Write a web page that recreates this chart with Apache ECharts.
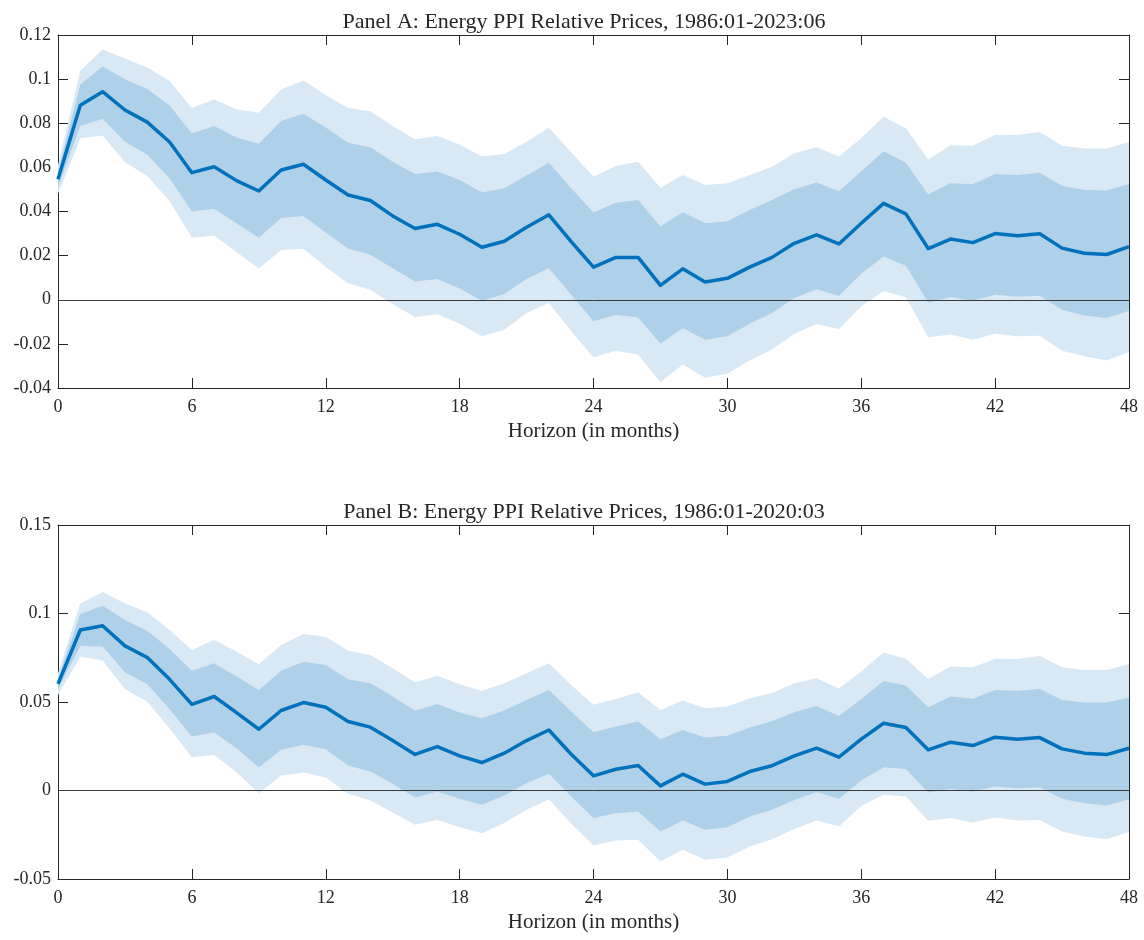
<!DOCTYPE html>
<html>
<head>
<meta charset="utf-8">
<script src="https://cdn.jsdelivr.net/npm/echarts@6/dist/echarts.min.js"></script>
<style>
  html, body { margin: 0; padding: 0; background: #ffffff; }
  #chart { width: 1144px; height: 940px; }
</style>
</head>
<body>
<div id="chart"></div>
<script>
// Impulse-response horizons (months)
const horizons = [0,1,2,3,4,5,6,7,8,9,10,11,12,13,14,15,16,17,18,19,20,21,22,23,24,
  25,26,27,28,29,30,31,32,33,34,35,36,37,38,39,40,41,42,43,44,45,46,47,48];

// Panel A: 1986:01-2023:06 — point estimate and confidence bands
const meanA = [0.0546,0.0882,0.0943,0.0860,0.0805,0.0715,0.0576,0.0603,0.0540,0.0493,0.0588,0.0614,0.0543,0.0475,0.0450,0.0380,0.0323,
  0.0342,0.0297,0.0238,0.0265,0.0329,0.0385,0.0264,0.0148,0.0192,0.0192,0.0065,0.0140,0.0080,0.0097,0.0148,0.0192,
  0.0256,0.0294,0.0253,0.0347,0.0437,0.0389,0.0232,0.0275,0.0259,0.0300,0.0290,0.0299,0.0234,0.0211,0.0205,0.0241];
const innerHiA = [0.0580,0.0976,0.1057,0.1000,0.0955,0.0881,0.0753,0.0787,0.0735,0.0707,0.0810,0.0843,0.0781,0.0712,0.0691,0.0626,0.0570,
  0.0581,0.0543,0.0486,0.0505,0.0563,0.0621,0.0505,0.0395,0.0440,0.0452,0.0332,0.0397,0.0347,0.0356,0.0407,0.0452,
  0.0501,0.0532,0.0492,0.0581,0.0673,0.0621,0.0477,0.0528,0.0523,0.0570,0.0566,0.0576,0.0517,0.0498,0.0495,0.0525];
const innerLoA = [0.0510,0.0787,0.0820,0.0716,0.0658,0.0551,0.0400,0.0412,0.0347,0.0281,0.0370,0.0380,0.0305,0.0232,0.0204,0.0143,0.0083,
  0.0094,0.0051,-0.0005,0.0026,0.0094,0.0143,0.0023,-0.0098,-0.0068,-0.0080,-0.0199,-0.0128,-0.0181,-0.0166,-0.0109,-0.0060,
  0.0008,0.0048,0.0018,0.0118,0.0196,0.0154,-0.0012,0.0012,-0.0005,0.0023,0.0015,0.0018,-0.0045,-0.0071,-0.0083,-0.0050];
const outerHiA = [0.0610,0.1038,0.1134,0.1094,0.1053,0.0992,0.0869,0.0908,0.0863,0.0848,0.0953,0.0994,0.0928,0.0869,0.0854,0.0787,0.0727,
  0.0742,0.0704,0.0649,0.0661,0.0716,0.0780,0.0668,0.0558,0.0606,0.0626,0.0508,0.0566,0.0520,0.0528,0.0566,0.0603,
  0.0664,0.0691,0.0649,0.0732,0.0830,0.0777,0.0636,0.0700,0.0698,0.0748,0.0747,0.0760,0.0698,0.0685,0.0686,0.0715];
const outerLoA = [0.0480,0.0731,0.0745,0.0623,0.0561,0.0448,0.0282,0.0290,0.0216,0.0142,0.0226,0.0231,0.0148,0.0075,0.0045,-0.0020,-0.0078,
  -0.0066,-0.0109,-0.0166,-0.0136,-0.0060,-0.0015,-0.0143,-0.0261,-0.0231,-0.0249,-0.0373,-0.0294,-0.0354,-0.0335,-0.0275,-0.0226,
  -0.0154,-0.0110,-0.0133,-0.0030,0.0038,0.0011,-0.0170,-0.0158,-0.0181,-0.0154,-0.0166,-0.0163,-0.0231,-0.0256,-0.0275,-0.0237];

// Panel B: 1986:01-2020:03
const meanB = [0.0602,0.0907,0.0931,0.0817,0.0751,0.0628,0.0487,0.0531,0.0440,0.0346,0.0452,0.0497,0.0470,0.0390,0.0358,0.0282,0.0204,
  0.0248,0.0196,0.0158,0.0211,0.0282,0.0342,0.0205,0.0083,0.0120,0.0141,0.0026,0.0092,0.0036,0.0051,0.0107,0.0140,
  0.0196,0.0239,0.0188,0.0290,0.0380,0.0356,0.0230,0.0273,0.0254,0.0301,0.0290,0.0299,0.0235,0.0211,0.0203,0.0239];
const innerHiB = [0.0634,0.0997,0.1044,0.0963,0.0903,0.0800,0.0676,0.0719,0.0644,0.0568,0.0677,0.0728,0.0709,0.0628,0.0606,0.0531,0.0451,
  0.0489,0.0440,0.0408,0.0452,0.0512,0.0568,0.0446,0.0329,0.0361,0.0390,0.0290,0.0342,0.0299,0.0309,0.0356,0.0391,
  0.0442,0.0478,0.0421,0.0517,0.0619,0.0593,0.0470,0.0531,0.0519,0.0568,0.0563,0.0574,0.0512,0.0497,0.0497,0.0525];
const innerLoB = [0.0572,0.0817,0.0813,0.0668,0.0600,0.0461,0.0305,0.0327,0.0239,0.0130,0.0230,0.0258,0.0233,0.0141,0.0107,0.0038,-0.0039,
  -0.0006,-0.0047,-0.0081,-0.0028,0.0041,0.0094,-0.0034,-0.0156,-0.0128,-0.0119,-0.0231,-0.0169,-0.0222,-0.0207,-0.0147,-0.0109,
  -0.0053,-0.0009,-0.0047,0.0056,0.0132,0.0122,-0.0011,0.0008,-0.0006,0.0023,0.0013,0.0019,-0.0047,-0.0072,-0.0085,-0.0049];
const outerHiB = [0.0662,0.1057,0.1121,0.1057,0.1007,0.0907,0.0794,0.0850,0.0785,0.0713,0.0822,0.0884,0.0869,0.0790,0.0766,0.0691,0.0610,
  0.0649,0.0600,0.0564,0.0606,0.0662,0.0719,0.0596,0.0484,0.0517,0.0555,0.0455,0.0508,0.0465,0.0474,0.0521,0.0551,
  0.0606,0.0634,0.0576,0.0672,0.0779,0.0745,0.0630,0.0700,0.0696,0.0745,0.0743,0.0760,0.0696,0.0681,0.0681,0.0715];
const outerLoB = [0.0540,0.0756,0.0734,0.0574,0.0502,0.0352,0.0188,0.0201,0.0103,-0.0015,0.0085,0.0102,0.0073,-0.0019,-0.0056,-0.0124,-0.0193,
  -0.0166,-0.0207,-0.0241,-0.0184,-0.0109,-0.0049,-0.0188,-0.0311,-0.0282,-0.0278,-0.0401,-0.0335,-0.0391,-0.0378,-0.0316,-0.0275,
  -0.0218,-0.0169,-0.0203,-0.0087,-0.0024,-0.0034,-0.0171,-0.0156,-0.0181,-0.0152,-0.0169,-0.0166,-0.0231,-0.0260,-0.0275,-0.0235];

// Axis tick settings
const xTicks = { min: 0, max: 48, interval: 6 };
const yTicksA = { min: -0.04, max: 0.12, interval: 0.02 };
const yTicksB = { min: -0.05, max: 0.15, interval: 0.05 };

const titles = [
  'Panel A: Energy PPI Relative Prices, 1986:01-2023:06',
  'Panel B: Energy PPI Relative Prices, 1986:01-2020:03'
];
const xName = 'Horizon (in months)';

// ---- styling ----
const SERIF = '"Liberation Serif", "Times New Roman", serif';
const AXIS_COLOR = '#262626';
const LINE_COLOR = '#0072BD';
const INNER_COLOR = '#aed0e8';
const OUTER_COLOR = '#d9e8f5';

const pairs = (ys) => horizons.map((h, i) => [h, ys[i]]);
const bandRows = (lo, hi) => horizons.map((h, i) => [h, lo[i], hi[i]]);
const fmtY = (v) => String(+v.toFixed(3));

function xAxes(gridIndex) {
  const base = {
    type: 'value', gridIndex, ...xTicks,
    splitLine: { show: false },
    axisLine: { onZero: false, lineStyle: { color: AXIS_COLOR, width: 1 } },
    axisTick: { inside: true, length: 10, lineStyle: { color: AXIS_COLOR } },
  };
  return [
    { ...base, position: 'bottom',
      name: xName, nameLocation: 'middle', nameGap: 33,
      nameTextStyle: { fontFamily: SERIF, fontSize: 21, color: '#262626' },
      axisLabel: { fontFamily: SERIF, fontSize: 18, color: '#262626', margin: 10 } },
    { ...base, position: 'top', axisLabel: { show: false } }
  ];
}
function yAxes(gridIndex, ticks) {
  const base = {
    type: 'value', gridIndex, ...ticks,
    splitLine: { show: false },
    axisLine: { show: true, onZero: false, lineStyle: { color: AXIS_COLOR, width: 1 } },
    axisTick: { show: true, inside: true, length: 10, lineStyle: { color: AXIS_COLOR } },
  };
  return [
    { ...base, position: 'left',
      axisLabel: { fontFamily: SERIF, fontSize: 18, color: '#262626', margin: 7, formatter: fmtY } },
    { ...base, position: 'right', axisLabel: { show: false } }
  ];
}

// Shaded band: one closed polygon through the lower bounds then back along the upper bounds
function bandSeries(idx, lo, hi, color, z) {
  return {
    type: 'custom', silent: true, animation: false, z,
    xAxisIndex: idx * 2, yAxisIndex: idx * 2,
    data: bandRows(lo, hi),
    encode: { x: 0, y: [1, 2] },
    renderItem: function (params, api) {
      if (params.dataIndexInside !== 0) return null;
      const n = params.dataInsideLength || horizons.length;
      const lower = [], upper = [];
      for (let j = 0; j < n; j++) {
        const x = api.value(0, j);
        lower.push(api.coord([x, api.value(1, j)]));
        upper.push(api.coord([x, api.value(2, j)]));
      }
      return {
        type: 'polygon',
        shape: { points: lower.concat(upper.reverse()) },
        style: { fill: color, stroke: null }
      };
    }
  };
}

function panelSeries(idx, mean, innerLo, innerHi, outerLo, outerHi) {
  return [
    bandSeries(idx, outerLo, outerHi, OUTER_COLOR, 1),
    bandSeries(idx, innerLo, innerHi, INNER_COLOR, 2),
    { type: 'line', showSymbol: false, silent: true, animation: false, z: 5,
      xAxisIndex: idx * 2, yAxisIndex: idx * 2,
      data: pairs(mean),
      lineStyle: { color: LINE_COLOR, width: 3.5, join: 'round' },
      markLine: {
        silent: true, symbol: 'none', label: { show: false }, animation: false,
        lineStyle: { color: '#3a3a3a', width: 1, type: 'solid' },
        data: [{ yAxis: 0 }]
      } }
  ];
}

const chart = echarts.init(document.getElementById('chart'), null, { renderer: 'canvas' });
chart.setOption({
  animation: false,
  backgroundColor: '#ffffff',
  title: [
    { text: titles[0], left: 579, top: 6, textAlign: 'center',
      textStyle: { fontFamily: SERIF, fontSize: 22, fontWeight: 'normal', color: '#262626' } },
    { text: titles[1], left: 579, top: 496, textAlign: 'center',
      textStyle: { fontFamily: SERIF, fontSize: 22, fontWeight: 'normal', color: '#262626' } }
  ],
  grid: [
    { left: 58, right: 15, top: 35, height: 353 },
    { left: 58, right: 15, top: 525, height: 354 }
  ],
  xAxis: [...xAxes(0), ...xAxes(1)],
  yAxis: [...yAxes(0, yTicksA), ...yAxes(1, yTicksB)],
  series: [
    ...panelSeries(0, meanA, innerLoA, innerHiA, outerLoA, outerHiA),
    ...panelSeries(1, meanB, innerLoB, innerHiB, outerLoB, outerHiB)
  ]
});
</script>
</body>
</html>
